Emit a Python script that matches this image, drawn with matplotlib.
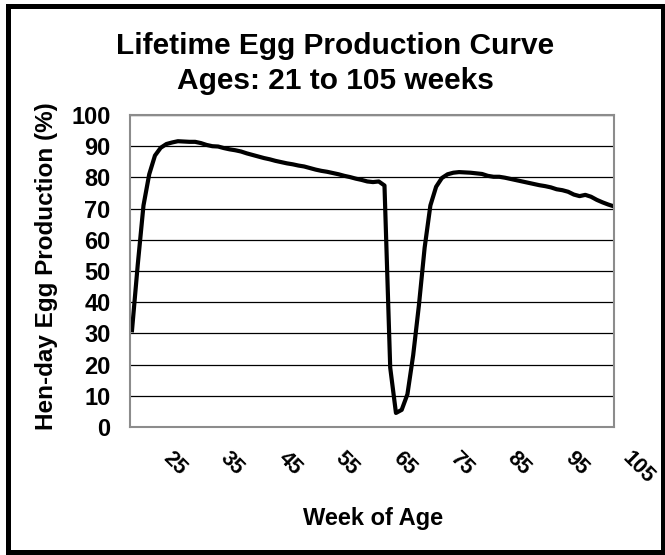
import matplotlib
matplotlib.use("Agg")
import matplotlib.pyplot as plt
import matplotlib.transforms as mtransforms
from matplotlib.patches import Rectangle

plt.rcParams['font.family'] = ['Liberation Sans', 'DejaVu Sans']

# weekly hen-day production
weeks = list(range(21, 106))
production = [
    31.0, 52.0, 71.0, 81.0, 87.0, 89.5, 90.7, 91.2, 91.6, 91.5,   # 21-30
    91.4, 91.4, 91.0, 90.4, 90.0, 89.9, 89.4, 89.0, 88.7, 88.3,   # 31-40
    87.7, 87.2, 86.7, 86.2, 85.8, 85.3, 84.9, 84.5, 84.2, 83.8,   # 41-50
    83.5, 83.0, 82.5, 82.1, 81.8, 81.4, 81.0, 80.5, 80.1, 79.6,   # 51-60
    79.2, 78.7, 78.5, 78.7, 77.4, 19.0, 4.5, 5.5, 10.5, 23.0,     # 61-70
    39.0, 57.5, 71.0, 77.0, 79.8, 81.0, 81.5, 81.7, 81.6, 81.5,   # 71-80
    81.3, 81.1, 80.5, 80.2, 80.2, 79.9, 79.5, 79.1, 78.7, 78.3,   # 81-90
    77.9, 77.5, 77.2, 76.8, 76.2, 75.9, 75.4, 74.5, 74.0, 74.4,   # 91-100
    73.8, 72.8, 72.0, 71.3, 70.7,                                 # 101-105
]
xtick_weeks = [25, 35, 45, 55, 65, 75, 85, 95, 105]
ytick_vals = list(range(0, 101, 10))

W, H = 665, 555
fig = plt.figure(figsize=(W / 100, H / 100), dpi=100)
ax = fig.add_axes([130 / W, 1 - 427 / H, (614 - 130) / W, (427 - 115) / H])

ax.plot(weeks, production, color='black', lw=3.0, solid_joinstyle='round')

ax.set_xlim(20.65, 105)
ax.set_ylim(0, 100)
ax.set_yticks(ytick_vals)
ax.set_xticks(xtick_weeks)
ax.tick_params(axis='both', length=0)
ax.tick_params(axis='y', pad=14)
ax.tick_params(axis='x', pad=15)
ax.set_xticklabels([str(w) for w in xtick_weeks], rotation=-45, ha='left',
                   va='top', fontsize=15.5, fontweight='bold')
ax.set_yticklabels([str(v) for v in ytick_vals], fontsize=17, fontweight='bold')

# nudge the rotated week labels a little to the right, like the original
shift = mtransforms.ScaledTranslation(4 / 100, 0, fig.dpi_scale_trans)
for lab in ax.get_xticklabels():
    lab.set_transform(lab.get_transform() + shift)

ax.grid(axis='y', color='black', lw=0.9)
ax.set_axisbelow(True)
for s in ax.spines.values():
    s.set_color('#8c8c8c')
    s.set_linewidth(1.5)

fig.text(335 / W, 1 - 63.5 / H,
         "Lifetime Egg Production Curve\nAges: 21 to 105 weeks",
         ha='center', va='center', fontsize=21.5, fontweight='bold',
         linespacing=1.3)
fig.text(47 / W, 1 - 266 / H, "Hen-day Egg Production (%)", rotation=90,
         ha='center', va='center', fontsize=17.5, fontweight='bold')
fig.text(373 / W, 1 - 518 / H, "Week of Age", ha='center', va='center',
         fontsize=17, fontweight='bold')

# chart area border
fig.patches.append(Rectangle((7.5 / W, 3 / H), 655 / W, 546 / H,
                             transform=fig.transFigure, fill=False,
                             edgecolor='black', lw=3.6))

fig.savefig('out.png', dpi=100)
